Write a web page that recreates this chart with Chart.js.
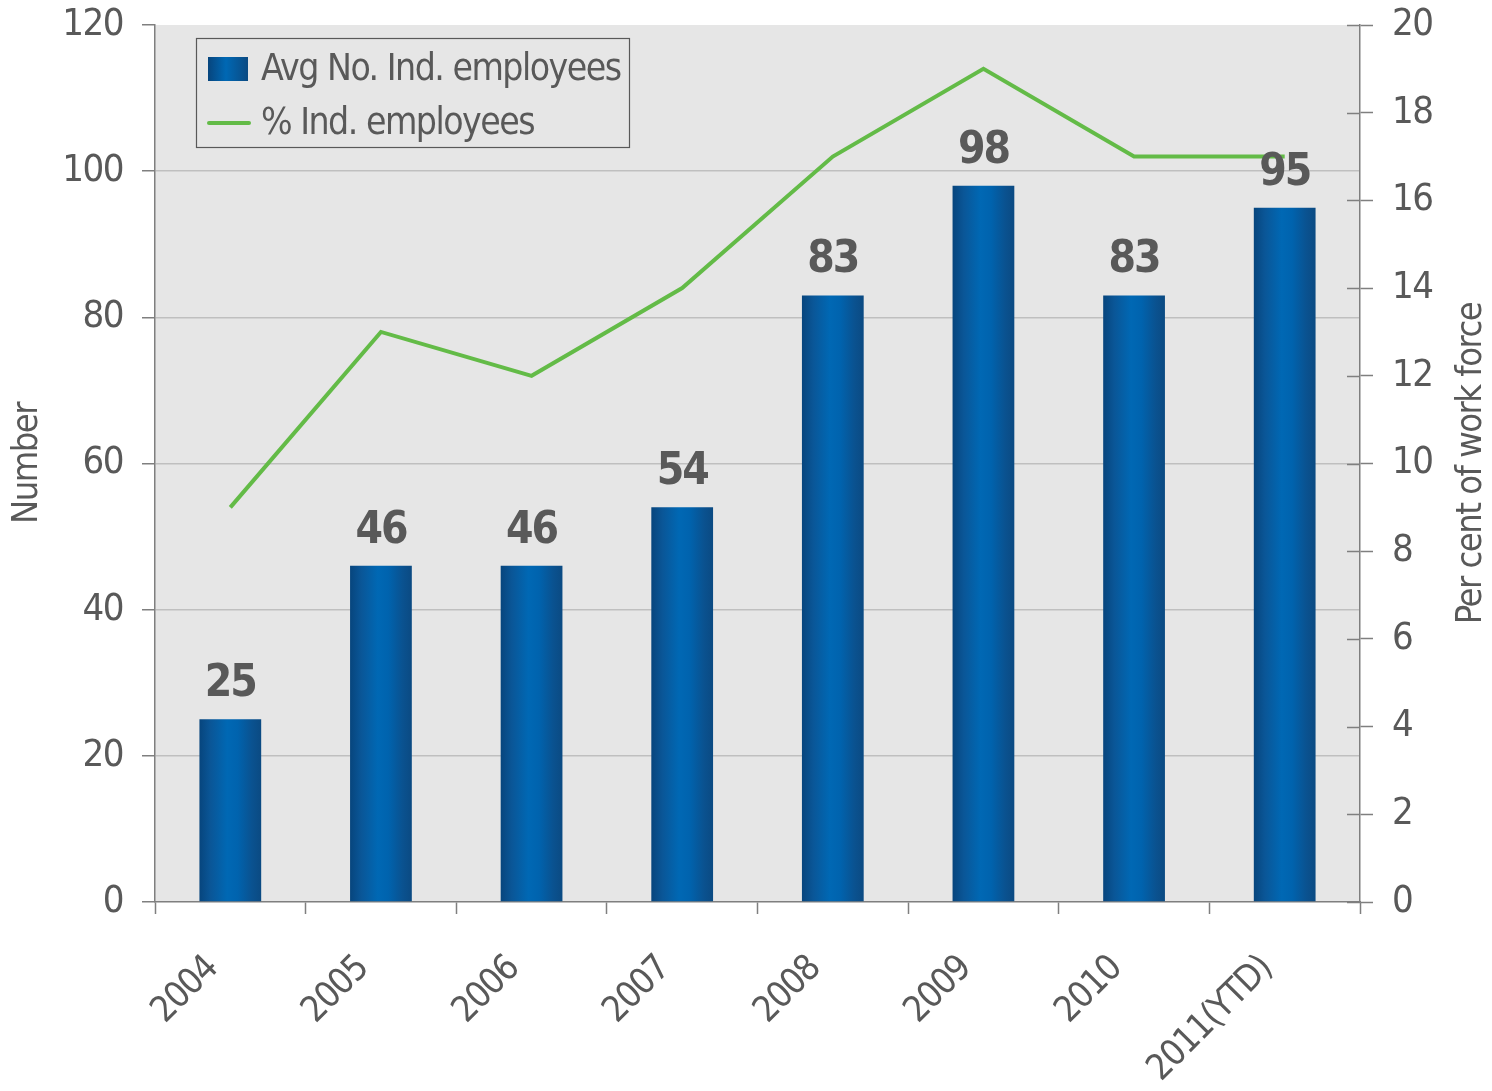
<!DOCTYPE html>
<html>
<head>
<meta charset="utf-8">
<script src="https://cdn.jsdelivr.net/npm/chart.js@4.4.0/dist/chart.umd.min.js"></script>
<style>
html, body { margin: 0; padding: 0; background: #fff; }
</style>
</head>
<body>
<canvas id="myChart" width="1492" height="1091"></canvas>
<script>
// data
var years = ["2004", "2005", "2006", "2007", "2008", "2009", "2010", "2011(YTD)"];
var employees = [25, 46, 46, 54, 83, 98, 83, 95];
var percentWorkForce = [9, 13, 12, 14, 17, 19, 17, 17];
var numberTicks = [0, 20, 40, 60, 80, 100, 120];
var percentTicks = [0, 2, 4, 6, 8, 10, 12, 14, 16, 18, 20];

var FONT = "'DejaVu Sans Condensed', 'Liberation Sans Narrow', sans-serif";
var TEXT = "#595959";
var AXIS = "#7f7f7f";
var GREEN = "#63bb47";
var SPACING = "-1.5px";

function barGradient(c) {
	var chart = c.chart;
	if (!chart.chartArea || !chart.scales.x) return "#0062ad";
	var xs = chart.scales.x;
	var cx = xs.getPixelForValue(c.dataIndex);
	var w = xs.width / years.length * 0.41;
	var g = chart.ctx.createLinearGradient(cx - w / 2, 0, cx + w / 2, 0);
	g.addColorStop(0, "#07457d");
	g.addColorStop(0.18, "#0a5697");
	g.addColorStop(0.45, "#0068b4");
	g.addColorStop(0.62, "#0063ae");
	g.addColorStop(0.85, "#0a5290");
	g.addColorStop(1, "#0b4a82");
	return g;
}

// grey plot area + narrower text
var plotBg = {
	id: "plotBg",
	beforeDraw: function(chart) {
		var a = chart.chartArea, ctx = chart.ctx;
		ctx.letterSpacing = SPACING;
		ctx.save();
		ctx.fillStyle = "#e6e6e6";
		ctx.fillRect(a.left, a.top, a.right - a.left, a.bottom - a.top);
		ctx.restore();
	}
};

// value labels above bars
var barLabels = {
	id: "barLabels",
	afterDatasetsDraw: function(chart) {
		var ctx = chart.ctx;
		var meta = chart.getDatasetMeta(1);
		ctx.save();
		ctx.letterSpacing = "-2px";
		ctx.font = "bold 44px " + FONT;
		ctx.fillStyle = TEXT;
		ctx.textAlign = "center";
		ctx.textBaseline = "alphabetic";
		meta.data.forEach(function(bar, i) {
			ctx.fillText(String(employees[i]), bar.x, bar.y - 23);
		});
		ctx.restore();
	}
};

// axis titles, inner right ticks, legend box
var extras = {
	id: "extras",
	afterDraw: function(chart) {
		var ctx = chart.ctx, a = chart.chartArea;
		var y1 = chart.scales.y1;
		ctx.save();
		ctx.letterSpacing = SPACING;

		// inner half of the right axis tick marks
		ctx.strokeStyle = AXIS;
		ctx.lineWidth = 1.5;
		percentTicks.forEach(function(v) {
			var py = Math.round(y1.getPixelForValue(v)) + 0.5;
			ctx.beginPath();
			ctx.moveTo(a.right - 13, py);
			ctx.lineTo(a.right, py);
			ctx.stroke();
		});

		// axis titles
		var midY = (a.top + a.bottom) / 2;
		ctx.fillStyle = TEXT;
		ctx.font = "36px " + FONT;
		ctx.textAlign = "center";
		ctx.textBaseline = "middle";
		ctx.save();
		ctx.translate(28, midY);
		ctx.rotate(-Math.PI / 2);
		ctx.fillText("Number", 0, 0);
		ctx.restore();
		ctx.save();
		ctx.translate(1472, midY);
		ctx.rotate(-Math.PI / 2);
		ctx.fillText("Per cent of work force", 0, 0);
		ctx.restore();

		// legend
		ctx.strokeStyle = TEXT;
		ctx.lineWidth = 1.2;
		ctx.strokeRect(196.5, 38.5, 433, 109);
		var sw = ctx.createLinearGradient(208, 0, 248, 0);
		sw.addColorStop(0, "#07457d");
		sw.addColorStop(0.45, "#0068b4");
		sw.addColorStop(1, "#0b4a82");
		ctx.fillStyle = sw;
		ctx.fillRect(208, 57, 40, 24);
		ctx.strokeStyle = GREEN;
		ctx.lineWidth = 4;
		ctx.lineCap = "round";
		ctx.beginPath();
		ctx.moveTo(209, 123);
		ctx.lineTo(249, 123);
		ctx.stroke();
		ctx.fillStyle = TEXT;
		ctx.font = "37px " + FONT;
		ctx.textAlign = "left";
		ctx.textBaseline = "middle";
		ctx.fillText("Avg No. Ind. employees", 261, 70);
		ctx.fillText("% Ind. employees", 261, 124);
		ctx.restore();
	}
};

var ctx = document.getElementById("myChart");

var config = {
	type: "bar",
	data: {
		labels: years,
		datasets: [
			{
				type: "line",
				label: "% Ind. employees",
				data: percentWorkForce,
				yAxisID: "y1",
				borderColor: GREEN,
				borderWidth: 4,
				pointRadius: 0,
				tension: 0,
				order: 0
			},
			{
				type: "bar",
				label: "Avg No. Ind. employees",
				data: employees,
				yAxisID: "y",
				backgroundColor: barGradient,
				categoryPercentage: 1,
				barPercentage: 0.41,
				order: 1
			}
		]
	},
	options: {
		responsive: false,
		animation: false,
		layout: { padding: { top: 25, left: 0, right: 0, bottom: 0 } },
		plugins: {
			legend: { display: false },
			tooltip: { enabled: false }
		},
		scales: {
			x: {
				offset: true,
				afterFit: function(s) { s.height = 189; s.paddingLeft = 0; s.paddingRight = 0; },
				grid: {
					offset: true,
					drawOnChartArea: false,
					tickLength: 12,
					tickColor: AXIS,
					tickWidth: 1.5
				},
				border: { color: AXIS, width: 1.5 },
				ticks: {
					color: TEXT,
					font: { family: FONT, size: 36 },
					minRotation: 45,
					maxRotation: 45,
					padding: 34,
					labelOffset: -18
				}
			},
			y: {
				position: "left",
				min: 0,
				max: 120,
				afterFit: function(s) { s.width = 155; s.paddingTop = 0; s.paddingBottom = 0; },
				afterBuildTicks: function(s) {
					s.ticks = numberTicks.map(function(v) { return { value: v }; });
				},
				grid: {
					color: function(c) {
						return (c.tick && (c.tick.value === 0 || c.tick.value === 120)) ? "rgba(0,0,0,0)" : "#bfbfbf";
					},
					lineWidth: 1.5,
					tickLength: 13,
					tickColor: AXIS,
					tickWidth: 1.5
				},
				border: { color: AXIS, width: 1.5 },
				ticks: {
					color: TEXT,
					font: { family: FONT, size: 38 },
					padding: 19
				}
			},
			y1: {
				position: "right",
				min: 0,
				max: 20,
				afterFit: function(s) { s.width = 132; s.paddingTop = 0; s.paddingBottom = 0; },
				afterBuildTicks: function(s) {
					s.ticks = percentTicks.map(function(v) { return { value: v }; });
				},
				grid: {
					drawOnChartArea: false,
					tickLength: 13,
					tickColor: AXIS,
					tickWidth: 1.5
				},
				border: { color: AXIS, width: 1.5 },
				ticks: {
					color: TEXT,
					font: { family: FONT, size: 38 },
					padding: 19
				}
			}
		}
	},
	plugins: [plotBg, barLabels, extras]
};

var chart1 = new Chart(ctx, config);
</script>
</body>
</html>
